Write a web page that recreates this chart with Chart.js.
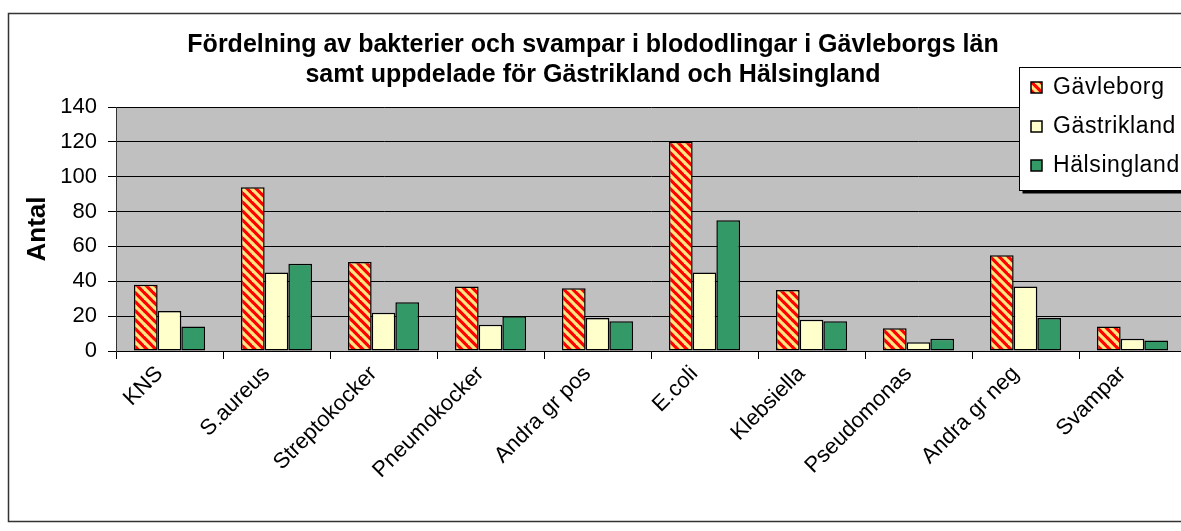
<!DOCTYPE html>
<html lang="sv">
<head>
<meta charset="utf-8">
<title>Fördelning av bakterier och svampar i blododlingar</title>
<script src="https://cdn.jsdelivr.net/npm/chart.js@4/dist/chart.umd.min.js"></script>
<style>
  html, body { margin: 0; padding: 0; background: #fff; overflow: hidden; }
  #wrap { width: 1200px; height: 531px; }
</style>
</head>
<body>
<div id="wrap"><canvas id="chart" width="1200" height="531"></canvas></div>
<script>
const categories = ['KNS', 'S.aureus', 'Streptokocker', 'Pneumokocker', 'Andra gr pos',
                    'E.coli', 'Klebsiella', 'Pseudomonas', 'Andra gr neg', 'Svampar'];
const gavleborg   = [38, 94, 51, 37, 36, 120, 35, 13, 55, 14];
const gastrikland = [23, 45, 22, 15, 19, 45, 18, 5, 37, 7];
const halsingland = [14, 50, 28, 20, 17, 75, 17, 7, 19, 6];
const seriesNames = ['Gävleborg', 'Gästrikland', 'Hälsingland'];
const titleLines = ['Fördelning av bakterier och svampar i blododlingar i Gävleborgs län',
                    'samt uppdelade för Gästrikland och Hälsingland'];

const FONT = 'Arial, "Liberation Sans", sans-serif';

// red with light yellow "\" stripes, like the Excel pattern fill
function stripePattern() {
  const c = document.createElement('canvas');
  c.width = 9; c.height = 9;
  const g = c.getContext('2d');
  g.fillStyle = '#ff0000';
  g.fillRect(0, 0, 9, 9);
  g.strokeStyle = '#ffe680';
  g.lineWidth = 3.2;
  for (const k of [-9, 0, 9]) {
    g.beginPath();
    g.moveTo(k - 1, -1);
    g.lineTo(k + 10, 10);
    g.stroke();
  }
  return g.createPattern(c, 'repeat');
}
const stripes = stripePattern();
const fills = [stripes, '#ffffcc', '#339966'];

// grey plot area + outer frame
const backdrop = {
  id: 'backdrop',
  beforeDraw(chart) {
    const { ctx, chartArea: a } = chart;
    ctx.save();
    ctx.fillStyle = '#c0c0c0';
    ctx.fillRect(a.left, a.top, a.right - a.left, a.bottom - a.top);
    ctx.restore();
  },
  afterDraw(chart) {
    const ctx = chart.ctx;
    ctx.save();
    ctx.strokeStyle = '#333';
    ctx.lineWidth = 1.5;
    ctx.strokeRect(8.5, 13.5, 1250, 508);
    ctx.restore();
  }
};

// legend box in the top right corner
const boxLegend = {
  id: 'boxLegend',
  afterDraw(chart) {
    const ctx = chart.ctx;
    const x = 1019.5, y = 67.5, w = 200, h = 123;
    ctx.save();
    ctx.fillStyle = '#000';
    ctx.fillRect(x + 3, y + 3, w, h);
    ctx.fillStyle = '#fff';
    ctx.fillRect(x, y, w, h);
    ctx.strokeStyle = '#000';
    ctx.lineWidth = 1;
    ctx.strokeRect(x, y, w, h);
    ctx.font = '23px ' + FONT;
    ctx.letterSpacing = '0.6px';
    ctx.textBaseline = 'middle';
    chart.data.datasets.forEach((ds, i) => {
      const cy = 87 + i * 39;
      ctx.fillStyle = ds.backgroundColor;
      ctx.fillRect(1031, cy - 5, 11, 11);
      ctx.strokeStyle = '#000';
      ctx.lineWidth = 1.5;
      ctx.strokeRect(1031, cy - 5, 11, 11);
      ctx.fillStyle = '#000';
      ctx.fillText(ds.label, 1053, cy + 1);
    });
    ctx.restore();
  }
};

const series = [gavleborg, gastrikland, halsingland];

new Chart(document.getElementById('chart'), {
  type: 'bar',
  data: {
    labels: categories,
    datasets: series.map((vals, i) => ({
      label: seriesNames[i],
      data: vals,
      backgroundColor: fills[i],
      borderColor: '#000',
      borderWidth: 1.5,
      borderSkipped: false,
      categoryPercentage: 0.665,
      barPercentage: 1.0
    }))
  },
  options: {
    responsive: false,
    animation: false,
    layout: { padding: { left: 0, right: 14, top: 0, bottom: 0 } },
    plugins: {
      legend: { display: false },
      tooltip: { enabled: false },
      title: {
        display: true,
        text: titleLines,
        color: '#000',
        font: { family: FONT, size: 25, weight: 'bold', lineHeight: 1.2 },
        padding: { top: 30, bottom: 17 }
      }
    },
    scales: {
      x: {
        afterFit(scale) { scale.height = 180; },
        grid: { drawOnChartArea: false, drawTicks: true, tickLength: 8, color: '#000', offset: true },
        border: { display: true, color: '#000', width: 1 },
        ticks: {
          color: '#000',
          font: { family: FONT, size: 22 },
          maxRotation: 45,
          minRotation: 45,
          autoSkip: false,
          labelOffset: -10,
          padding: 2
        }
      },
      y: {
        min: 0,
        max: 140,
        afterFit(scale) { scale.width = 116; },
        grid: { color: '#000', lineWidth: 1, tickLength: 8 },
        border: { display: true, color: '#333', width: 1 },
        ticks: {
          stepSize: 20,
          color: '#000',
          font: { family: FONT, size: 22 },
          padding: 11
        },
        title: {
          display: true,
          text: 'Antal',
          color: '#000',
          font: { family: FONT, size: 26, weight: 'bold' },
          padding: { top: 22, bottom: 0 }
        }
      }
    }
  },
  plugins: [backdrop, boxLegend]
});
</script>
</body>
</html>
